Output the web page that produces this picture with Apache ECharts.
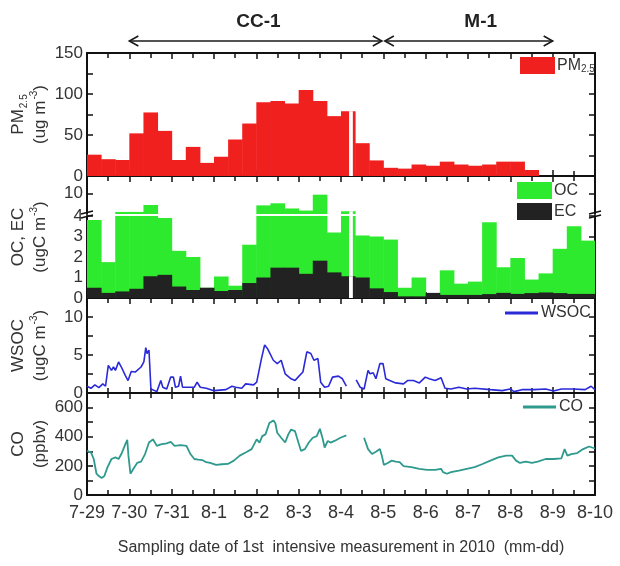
<!DOCTYPE html>
<html><head><meta charset="utf-8">
<script src="https://cdn.jsdelivr.net/npm/echarts@6/dist/echarts.min.js"></script>
<style>html,body{margin:0;padding:0;background:#fff}#c{width:620px;height:566px}</style>
</head><body><div id="c"></div>
<script>
// ---------------- data ----------------
const dateLabels = ['7-29','7-30','7-31','8-1','8-2','8-3','8-4','8-5','8-6','8-7','8-8','8-9','8-10'];
const binDays = 1/3; // 8-hour filter samples, starting 7-29 00:00
const pm25 = [26, 20.5, 19.5, 52, 77.5, 55, 19.5, 35.5, 16, 23.5, 44.5, 64, 90, 91.5, 88.5, 105, 91.5, 73,
              79, 40, 19, 10, 9, 14, 12.5, 17.5, 14, 12.5, 14, 17.5, 17.5, 7.3];
const oc = [3.8, 1.75, 4.6, 4.6, 6.6, 3.9, 2.3, 2.0, 0.5, 1.05, 0.6, 2.6, 6.5, 7.1, 5.6, 5.0, 9.6, 3.2,
            4.8, 3.05, 3.0, 2.85, 0.5, 1.0, 0.2, 1.35, 0.7, 0.8, 3.7, 1.5, 1.95, 0.9, 1.2, 2.4, 3.5, 2.8];
const ec = [0.5, 0.25, 0.32, 0.45, 1.06, 1.13, 0.56, 0.39, 0.5, 0.34, 0.39, 0.73, 1.0, 1.48, 1.48, 1.18, 1.82, 1.25,
            1.06, 1.0, 0.47, 0.29, 0.08, 0.08, 0.25, 0.15, 0.15, 0.15, 0.19, 0.25, 0.2, 0.24, 0.27, 0.24, 0.2, 0.2];
const missingDays = [6.19, 6.28];
const wsocDays = [0,0.093,0.186,0.28,0.373,0.438,0.503,0.578,0.625,0.671,0.746,0.811,0.904,0.97,1.044,1.138,1.184,1.277,1.343,1.389,1.417,1.464,1.51,1.557,1.65,1.744,1.79,1.883,1.977,2.042,2.089,2.163,2.21,2.256,2.35,2.536,2.601,2.676,2.816,3.002,3.282,3.422,3.515,3.655,3.748,3.935,4.009,4.121,4.196,4.261,4.401,4.494,4.587,4.681,4.821,4.914,5.007,5.1,5.193,5.287,5.361,5.455,5.52,5.613,5.706,5.8,5.939,6.033,6.126,
  6.25,
  6.359,6.452,6.545,6.639,6.685,6.76,6.825,6.918,6.993,7.058,7.152,7.291,7.478,7.571,7.711,7.851,7.991,8.084,8.224,8.364,8.457,8.597,8.783,8.97,9.156,9.529,9.809,9.995,10.089,10.275,10.555,10.834,11.021,11.207,11.487,11.767,11.907,12];
const wsocVals = [0.89,0.62,1.07,0.71,1.2,0.89,3.64,2.98,3.42,2.98,4.09,3.42,2.31,1.64,2.84,2.76,2.98,3.42,4.09,5.96,5.2,5.64,0.53,0.62,0.18,1.64,0.76,0.53,2.09,2.09,0.76,0.89,2.22,0.76,0.76,0.76,1.42,0.76,0.62,0.31,0.44,0.89,0.76,0.62,1.2,1.07,1.42,4.53,6.31,5.87,4.31,3.87,4.31,2.53,1.87,1.64,2.22,2.76,5.42,5.2,4.31,4.53,1.42,0.76,0.89,2.09,2.22,1.87,0.89,
  '-',
  1.73,0.76,0.53,2.98,2.53,2.67,1.87,3.87,3.87,1.87,1.64,1.33,1.2,1.64,1.64,1.33,2.09,1.87,1.64,2.0,0.62,0.53,0.76,0.53,0.62,0.44,0.31,0.53,0.18,0.44,0.44,0.53,0.27,0.53,0.53,0.44,0.89,0.44];
const coDays = [0,0.093,0.159,0.224,0.28,0.345,0.41,0.485,0.578,0.671,0.746,0.811,0.904,0.951,0.979,1.026,1.072,1.119,1.184,1.277,1.371,1.464,1.557,1.65,1.744,1.883,1.977,2.07,2.21,2.35,2.443,2.536,2.629,2.723,2.816,2.909,3.049,3.189,3.329,3.469,3.608,3.748,3.888,4.009,4.075,4.14,4.215,4.308,4.401,4.448,4.494,4.587,4.681,4.755,4.821,4.914,4.96,5.054,5.147,5.24,5.333,5.427,5.501,5.571,5.613,5.688,5.753,5.846,5.986,6.126,
  6.3,
  6.545,6.639,6.732,6.825,6.918,6.965,7.012,7.105,7.198,7.291,7.385,7.478,7.664,7.851,8.037,8.224,8.364,8.41,8.503,8.597,8.783,8.97,9.156,9.343,9.529,9.716,9.902,10.042,10.135,10.228,10.368,10.508,10.648,10.834,11.021,11.207,11.282,11.347,11.441,11.58,11.72,11.86,12];
const coVals = [303,292,247,146,130,117,130,191,247,258,247,281,348,378,270,146,139,191,220,229,281,360,382,337,348,355,364,337,342,337,281,247,243,240,225,220,207,211,213,236,270,292,315,382,360,404,416,494,512,494,427,393,360,416,449,438,393,303,315,360,393,404,454,382,326,371,360,371,393,409,
  '-',
  393,315,281,297,315,270,207,220,236,229,225,198,191,180,173,173,180,157,146,157,168,180,191,213,236,258,270,270,236,220,229,220,229,247,247,252,315,270,281,288,315,333,319];
const periods = ['CC-1', 'M-1'];
const periodStart = [1, 7];
const periodEnd = [7, 11];
const periodLabelAt = [4.05, 9.3];

// ---------------- style ----------------
const FONT = "'Liberation Sans',Arial,sans-serif";
const FONT_R = "'Liberation Sans',Arial,sans-serif";
const TXT = '#333';
const INK = '#111';
const C_PM = '#f0201e', C_OC = '#2eea2e', C_EC = '#222222', C_WSOC = '#2a2ad8', C_CO = '#2e9a8e';
const L = 87, R = 25;

const gridBase = {left: L, right: R, containLabel: false, outerBoundsMode: 'none'};
const grids = [
  Object.assign({top: 53, height: 123}, gridBase),   // 0 PM2.5
  Object.assign({top: 176, height: 38}, gridBase),   // 1 OC upper (4..15)
  Object.assign({top: 216, height: 82}, gridBase),   // 2 OC lower (0..4)
  Object.assign({top: 176, height: 122}, gridBase),  // 3 OC frame (name only)
  Object.assign({top: 298, height: 95}, gridBase),   // 4 WSOC
  Object.assign({top: 393, height: 102}, gridBase)   // 5 CO
];

const rich = {
  sub: {fontSize: 10, fontFamily: FONT_R, color: TXT, verticalAlign: 'bottom', padding: [8, 0, 0, 1]},
  sup: {fontSize: 10, fontFamily: FONT_R, color: TXT, verticalAlign: 'top', padding: [0, 0, 6, 1]}
};

function xAx(g, pos, extra) {
  return Object.assign({
    type: 'value', gridIndex: g, position: pos, min: 0, max: 12, interval: 1,
    axisLine: {show: true, onZero: false, lineStyle: {color: INK, width: 2}},
    axisTick: {show: true, inside: true, length: 6, lineStyle: {color: INK, width: 1.5}},
    minorTick: {show: true, splitNumber: 2, length: 5, lineStyle: {color: INK, width: 1.5}},
    axisLabel: {show: false}, splitLine: {show: false}, minorSplitLine: {show: false}
  }, extra || {});
}
function yAx(g, pos, min, max, interval, labelEvery, extra) {
  return Object.assign({
    type: 'value', gridIndex: g, position: pos, min: min, max: max, interval: interval,
    axisLine: {show: true, onZero: false, lineStyle: {color: INK, width: 2}},
    axisTick: {show: true, inside: true, length: 6, lineStyle: {color: INK, width: 1.5}},
    axisLabel: {show: pos === 'left', margin: 4, color: TXT, fontSize: 17, fontFamily: FONT,
      formatter: v => (Math.abs(v / labelEvery - Math.round(v / labelEvery)) < 1e-6 ? String(v) : '')},
    splitLine: {show: false}
  }, extra || {});
}
function yName(text, gap) {
  return {name: text, nameLocation: 'middle', nameRotate: 90, nameGap: gap, nameMoveOverlap: false,
    nameTextStyle: {fontSize: 17, fontFamily: FONT_R, color: TXT, lineHeight: 22, rich: rich}};
}

const xAxes = [
  xAx(0, 'bottom'), xAx(0, 'top'),
  xAx(1, 'top'),
  xAx(2, 'bottom'),
  xAx(3, 'bottom', {show: false}),
  xAx(4, 'bottom'), xAx(4, 'top'),
  xAx(5, 'bottom', {axisLabel: {show: true, margin: 9, color: TXT, fontSize: 18, fontFamily: FONT,
      formatter: v => dateLabels[v]},
    name: 'Sampling date of 1st  intensive measurement in 2010  (mm-dd)', nameLocation: 'middle', nameGap: 45,
    nameMoveOverlap: false, nameTextStyle: {fontSize: 16, fontFamily: FONT_R, color: TXT}}),
  xAx(5, 'top')
];
const NG = 36;
const yAxes = [
  yAx(0, 'left', 0, 150, 25, 50, yName('PM{sub|2.5}\n(ug m{sup|-3})', NG)),  // 0
  yAx(0, 'right', 0, 150, 25, 50),                                          // 1
  yAx(1, 'left', 4, 15, 1, 1, {axisTick: {show: true, inside: true, length: 6, customValues: [10], lineStyle: {color: INK, width: 1.5}},
      axisLabel: {show: true, margin: 4, color: TXT, fontSize: 17, fontFamily: FONT, customValues: [10]}}), // 2
  yAx(1, 'right', 4, 15, 1, 1, {axisTick: {show: true, inside: true, length: 6, customValues: [10], lineStyle: {color: INK, width: 1.5}}}), // 3
  yAx(2, 'left', 0, 4, 1, 1),   // 4
  yAx(2, 'right', 0, 4, 1, 1),  // 5
  Object.assign({type: 'value', gridIndex: 3, min: 0, max: 1, axisLine: {show: false}, axisTick: {show: false},
      axisLabel: {show: false}, splitLine: {show: false}}, yName('OC, EC\n(ugC m{sup|-3})', NG)), // 6
  yAx(4, 'left', 0, 12.5, 2.5, 5, yName('WSOC\n(ugC m{sup|-3})', NG)),  // 7
  yAx(4, 'right', 0, 12.5, 2.5, 5),  // 8
  yAx(5, 'left', 0, 700, 100, 200, yName('CO\n(ppbv)', NG)),  // 9
  yAx(5, 'right', 0, 700, 100, 200)  // 10
];

function binRenderer(lo, hi) {
  return function (params, api) {
    const x0 = api.value(0), v = api.value(1);
    if (!(v > lo)) return null;
    const top = Math.min(v, hi);
    const p0 = api.coord([x0, top]);
    const p1 = api.coord([x0 + binDays, lo]);
    const children = [{type: 'rect', shape: {x: p0[0], y: p0[1], width: p1[0] - p0[0] + 0.5, height: p1[1] - p0[1]},
      style: {fill: api.visual('color')}}];
    const a = Math.max(x0, missingDays[0]), b = Math.min(x0 + binDays, missingDays[1]);
    if (b > a) {
      const q0 = api.coord([a, top]), q1 = api.coord([b, lo]);
      children.push({type: 'rect', shape: {x: q0[0], y: q0[1], width: q1[0] - q0[0], height: q1[1] - q0[1]}, style: {fill: '#fff'}});
    }
    return {type: 'group', children: children};
  };
}
const binData = arr => arr.map((v, i) => [i * binDays, v]);
const pairs = (xs, ys) => xs.map((x, i) => [x, ys[i]]);

const series = [
  {type: 'custom', name: 'PM2.5', xAxisIndex: 0, yAxisIndex: 0, data: binData(pm25), encode: {x: 0, y: 1},
   itemStyle: {color: C_PM}, renderItem: binRenderer(0, 150), clip: true},
  {type: 'custom', name: 'OC', xAxisIndex: 2, yAxisIndex: 2, data: binData(oc), encode: {x: 0, y: 1},
   itemStyle: {color: C_OC}, renderItem: binRenderer(4, 15), clip: true},
  {type: 'custom', name: 'OC', xAxisIndex: 3, yAxisIndex: 4, data: binData(oc), encode: {x: 0, y: 1},
   itemStyle: {color: C_OC}, renderItem: binRenderer(0, 4), clip: true},
  {type: 'custom', name: 'EC', xAxisIndex: 3, yAxisIndex: 4, data: binData(ec), encode: {x: 0, y: 1},
   itemStyle: {color: C_EC}, renderItem: binRenderer(0, 4), clip: true},
  {type: 'line', name: 'WSOC', xAxisIndex: 5, yAxisIndex: 7, data: pairs(wsocDays, wsocVals), symbol: 'none',
   connectNulls: false, lineStyle: {color: C_WSOC, width: 1.6}, itemStyle: {color: C_WSOC}},
  {type: 'line', name: 'CO', xAxisIndex: 7, yAxisIndex: 9, data: pairs(coDays, coVals), symbol: 'none',
   connectNulls: false, lineStyle: {color: C_CO, width: 1.8}, itemStyle: {color: C_CO}}
];

const legTxt = {color: TXT, fontSize: 16, fontFamily: FONT_R};
const legends = [
  {data: [{name: 'PM2.5', icon: 'rect'}], left: 520, top: 57, padding: 0, itemWidth: 35, itemHeight: 17, itemGap: 4,
   formatter: () => 'PM{s|2.5}', textStyle: Object.assign({}, legTxt, {padding: [0, 0, 0, -3], rich: {s: {fontSize: 10, fontFamily: FONT_R, color: TXT, verticalAlign: 'bottom', padding: [8, 0, 0, 0]}}}), selectedMode: false},
  {data: [{name: 'OC', icon: 'rect'}, {name: 'EC', icon: 'rect'}], orient: 'vertical', left: 517, top: 182, padding: 0,
   itemWidth: 35, itemHeight: 17, itemGap: 4, textStyle: Object.assign({}, legTxt, {padding: [0, 0, 0, -3]}), selectedMode: false},
  {data: [{name: 'WSOC', icon: 'rect'}], left: 505, top: 305, padding: 0, itemWidth: 33, itemHeight: 3,
   textStyle: Object.assign({}, legTxt, {padding: [0, 0, 0, -2]}), selectedMode: false},
  {data: [{name: 'CO', icon: 'rect'}], left: 523, top: 399, padding: 0, itemWidth: 33, itemHeight: 3,
   textStyle: Object.assign({}, legTxt, {padding: [0, 0, 0, -2]}), selectedMode: false}
];

const chart = echarts.init(document.getElementById('c'), null, {renderer: 'canvas'});
chart.setOption({
  backgroundColor: '#fff', animation: false,
  grid: grids, xAxis: xAxes, yAxis: yAxes, series: series, legend: legends
});

// annotations: period arrows & labels, axis-break marks
const px = d => chart.convertToPixel({xAxisIndex: 0}, d);
const g = [];
const ARROW_Y = 41, LABEL_Y = 22;
periods.forEach((name, i) => {
  const x0 = px(periodStart[i]) + (i === 0 ? 0 : 1.5), x1 = px(periodEnd[i]) - (i === 0 ? 1.5 : 0);
  g.push({type: 'line', shape: {x1: x0, y1: ARROW_Y, x2: x1, y2: ARROW_Y}, style: {stroke: '#1a1a1a', lineWidth: 1.6}});
  g.push({type: 'polyline', shape: {points: [[x0 + 9, ARROW_Y - 5], [x0, ARROW_Y], [x0 + 9, ARROW_Y + 5]]}, style: {stroke: '#1a1a1a', lineWidth: 1.6, fill: null}});
  g.push({type: 'polyline', shape: {points: [[x1 - 9, ARROW_Y - 5], [x1, ARROW_Y], [x1 - 9, ARROW_Y + 5]]}, style: {stroke: '#1a1a1a', lineWidth: 1.6, fill: null}});
  g.push({type: 'text', x: px(periodLabelAt[i]), y: LABEL_Y, style: {text: name, fill: '#222', font: "bold 19px 'Liberation Sans',Arial,sans-serif", align: 'center', verticalAlign: 'middle'}});
});
const breakY = chart.convertToPixel({yAxisIndex: 4}, 4) - 1;
[px(0), px(12)].forEach(x => {
  g.push({type: 'line', shape: {x1: x - 6, y1: breakY - 1, x2: x + 6, y2: breakY - 4}, style: {stroke: INK, lineWidth: 1.5}});
  g.push({type: 'line', shape: {x1: x - 6, y1: breakY + 3, x2: x + 6, y2: breakY}, style: {stroke: INK, lineWidth: 1.5}});
});
chart.setOption({graphic: g});
</script>
</body></html>
